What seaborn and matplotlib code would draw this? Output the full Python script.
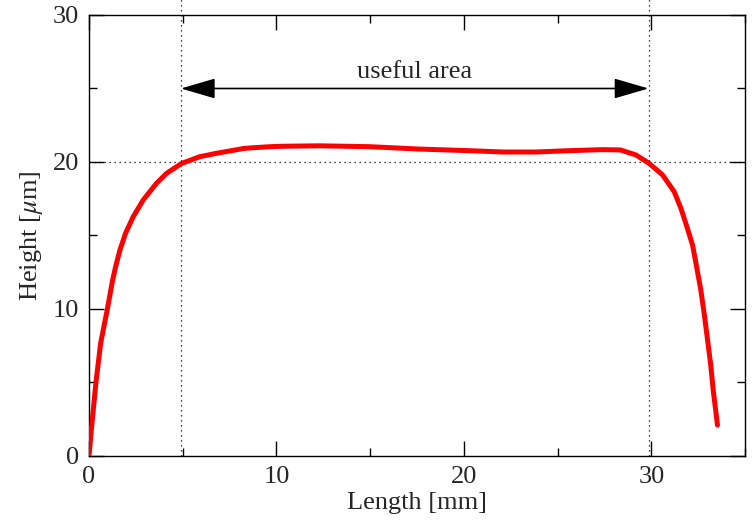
import matplotlib
matplotlib.use("Agg")
import matplotlib.pyplot as plt
import seaborn as sns
import numpy as np
import pandas as pd
from matplotlib.ticker import MultipleLocator

length_mm = [0.0, 0.14, 0.37, 0.62, 0.98, 1.25, 1.42, 1.65, 1.95, 2.36, 2.89,
             3.6, 4.14, 4.94, 5.91, 6.8, 8.3, 9.64, 10.3, 12.3, 15.0, 17.6, 20.3,
             22.1, 23.85, 25.6, 27.4, 28.35, 29.18, 29.89, 30.6, 31.22, 31.58,
             31.87, 32.2, 32.4, 32.64, 32.83, 33.0, 33.17, 33.3, 33.53]
height_um = [0.0, 2.0, 5.0, 7.67, 10.0, 11.9, 12.88, 14.01, 15.15, 16.28, 17.41,
             18.55, 19.23, 19.9, 20.36, 20.59, 20.93, 21.04, 21.07, 21.1, 21.04, 20.88,
             20.77, 20.68, 20.68, 20.77, 20.84, 20.82, 20.48, 19.9, 19.12, 17.98,
             16.85, 15.71, 14.35, 12.99, 11.3, 9.59, 7.9, 6.19, 4.5, 2.1]
useful_start = 4.9
useful_end = 29.85
ref_height = 20
label_text = "useful area"

df = pd.DataFrame({"Length": length_mm, "Height": height_um})

sns.set_theme(style="white")
plt.rcParams["font.family"] = ["Liberation Serif", "DejaVu Serif"]
plt.rcParams["mathtext.fontset"] = "stix"

FS = 19

fig = plt.figure(figsize=(7.55, 5.28), dpi=100)
ax = fig.add_axes([0.1179, 0.1364, 0.8689, 0.8352])

sns.lineplot(data=df, x="Length", y="Height", color="#ff0000", linewidth=3.6,
             ax=ax, solid_capstyle="round", solid_joinstyle="round", zorder=5)

ax.set_xlim(0, 35)
ax.set_ylim(0, 30)

dot = (0, (1, 3))
ax.plot([useful_start, useful_start], [0, 31.2], color="black", lw=0.9,
        linestyle=dot, clip_on=False, zorder=2)
ax.plot([useful_end, useful_end], [0, 31.2], color="black", lw=0.9,
        linestyle=dot, clip_on=False, zorder=2)
ax.plot([0, 35], [ref_height, ref_height], color="black", lw=0.9,
        linestyle=dot, zorder=2)

ax.annotate("", xy=(useful_end, 25), xytext=(useful_start, 25),
            arrowprops=dict(arrowstyle="<|-|>,head_length=1.2,head_width=0.35",
                            color="black", lw=1.2, shrinkA=0, shrinkB=0,
                            mutation_scale=18))
ax.text((useful_start + useful_end) / 2, 26.1, label_text, ha="center", va="center",
        fontsize=FS)

ax.xaxis.set_major_locator(MultipleLocator(10))
ax.xaxis.set_minor_locator(MultipleLocator(5))
ax.yaxis.set_major_locator(MultipleLocator(10))
ax.yaxis.set_minor_locator(MultipleLocator(5))
ax.tick_params(which="both", direction="in", top=True, right=True,
               bottom=True, left=True, color="black", width=1.0, labelsize=FS)
ax.tick_params(which="major", length=11, pad=7)
ax.tick_params(which="minor", length=5.5)

for s in ax.spines.values():
    s.set_color("black")
    s.set_linewidth(1.0)

ax.set_xlabel("Length [mm]", fontsize=FS, labelpad=3)
ax.set_ylabel("Height [$\\mu$m]", fontsize=FS, labelpad=6)

fig.savefig("out.png", dpi=100)
